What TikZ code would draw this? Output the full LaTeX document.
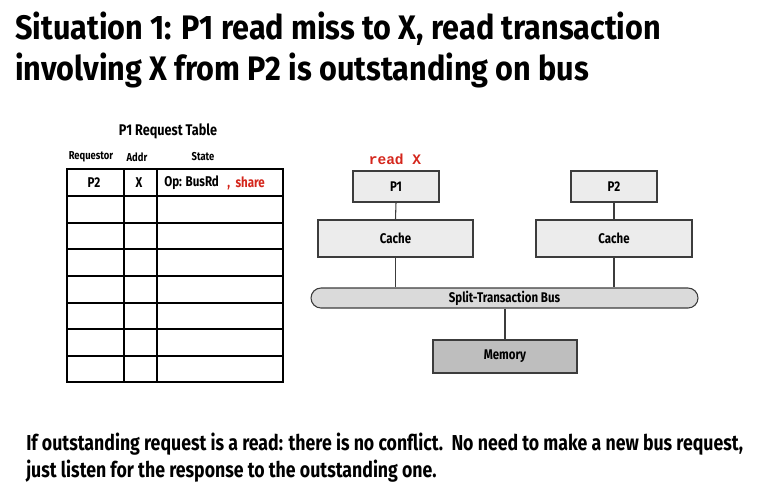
\documentclass[tikz,border=0pt]{standalone}
\usepackage{fontspec}
\setmainfont[FakeStretch=0.82]{Fira Sans}
\newfontfamily\titlefamily[FakeStretch=0.9]{Fira Sans}
\newfontfamily\codefont{Liberation Mono}
\definecolor{redtxt}{RGB}{212,38,28}
\definecolor{boxfill}{RGB}{236,236,236}
\definecolor{busfill}{RGB}{218,218,218}
\definecolor{memfill}{RGB}{190,190,190}
\definecolor{edgecol}{RGB}{60,60,60}
\tikzset{
  titletext/.style={anchor=base west, inner sep=0pt, font=\titlefamily\bfseries\fontsize{25.5}{30}\selectfont},
  bodytext/.style={anchor=base west, inner sep=0pt, font=\bfseries\fontsize{16.2}{19}\selectfont},
  compbox/.style={draw=edgecol, line width=0.8pt, fill=boxfill, inner sep=0pt, font=\bfseries\fontsize{10.5}{12}\selectfont},
  wire/.style={draw=edgecol, line width=0.8pt},
  gridline/.style={line width=1.4pt, black},
  cellhead/.style={inner sep=0pt, font=\bfseries\fontsize{8.6}{10}\selectfont},
  celltext/.style={inner sep=0pt, font=\bfseries\fontsize{10.6}{12}\selectfont},
}
\begin{document}
\begin{tikzpicture}[x=0.75pt,y=-0.75pt]
\useasboundingbox (0,0) rectangle (757,497);
% title
\node[titletext] (t1) at (15,39) {Situation 1: P1 read miss to X, read transaction};
\node[titletext] (t2) at (15,80) {involving X from P2 is outstanding on bus};
% table
\node[inner sep=0pt, font=\bfseries\fontsize{11.6}{13}\selectfont] (tcap) at (168,131) {P1 Request Table};
\node[cellhead] (hreq) at (91,157) {Requestor};
\node[cellhead] (haddr) at (137,157) {Addr};
\node[cellhead] (hstate) at (203,157) {State};
\draw[gridline] (67,169) rectangle (283,382);
\draw[gridline] (124,169) -- (124,382);
\draw[gridline] (157,169) -- (157,382);
\foreach \yy in {196,223,249,276,303,329,356} {
  \draw[gridline] (67,\yy) -- (283,\yy);
}
\node[celltext] (rq) at (94,183) {P2};
\node[celltext] (ra) at (139,183) {X};
\node[celltext, anchor=west] (rs) at (164,183) {Op: BusRd};
\node[celltext, anchor=west, text=redtxt] (rsh) at (227,183) {,\ \ share};
% diagram
\node[inner sep=0pt, text=redtxt, font=\codefont\bfseries\fontsize{10.9}{12}\selectfont] (rx) at (395,159) {read X};
\node[compbox, minimum width=64.5pt, minimum height=23.25pt] (p1) at (396,186.5) {P1};
\node[compbox, minimum width=64.5pt, minimum height=23.25pt] (p2) at (614,186.5) {P2};
\node[compbox, minimum width=116.25pt, minimum height=27.75pt] (c1) at (395.5,238.5) {Cache};
\node[compbox, minimum width=117pt, minimum height=27.75pt] (c2) at (614,238.5) {Cache};
\node[compbox, fill=busfill, rounded corners=7.5pt, minimum width=290.25pt, minimum height=15pt] (bus) at (504.5,298) {Split-Transaction Bus};
\node[compbox, fill=memfill, minimum width=108pt, minimum height=24.75pt] (mem) at (505,356.5) {Memory};
\draw[wire] (p1.south) -- (c1.north);
\draw[wire] (p2.south) -- (c2.north);
\draw[wire] (c1.south) -- (c1.south |- bus.north);
\draw[wire] (c2.south) -- (c2.south |- bus.north);
\draw[wire] (mem.north |- bus.south) -- (mem.north);
% bottom text
\node[bodytext] (b1) at (26,450) {If outstanding request is a read: there is no conflict.\ \ No need to make a new bus request,};
\node[bodytext] (b2) at (26,477.5) {just listen for the response to the outstanding one.};
\end{tikzpicture}
\end{document}
